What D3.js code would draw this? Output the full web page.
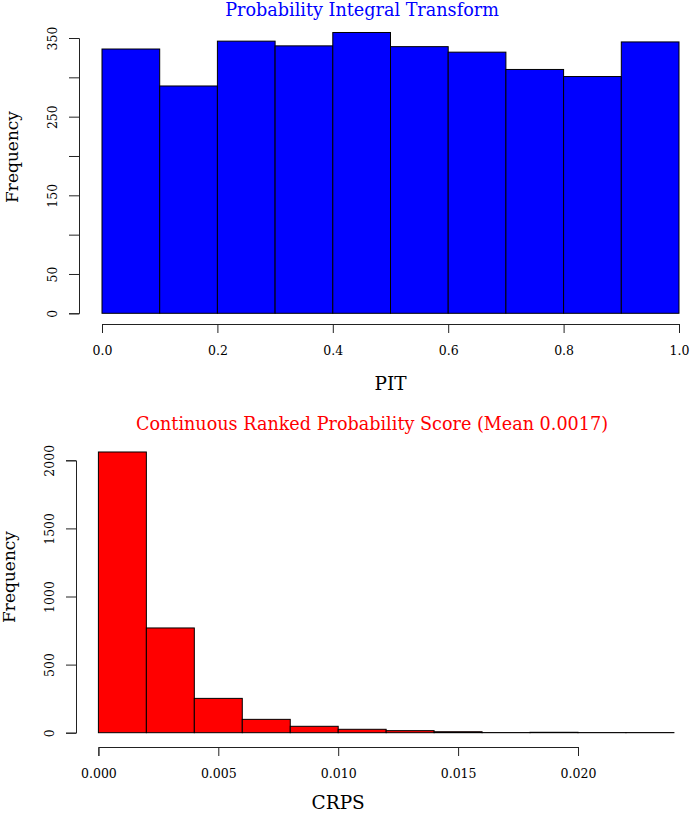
<!DOCTYPE html>
<html>
<head>
<meta charset="utf-8">
<script src="https://cdn.jsdelivr.net/npm/d3@7"></script>
<style>
  body { margin: 0; background: #fff; }
  svg text { font-family: "DejaVu Serif", "Liberation Serif", serif; }
</style>
</head>
<body>
<svg id="chart" width="694" height="813"></svg>
<script>
// PIT histogram: bin edges and counts
const pitBreaks = [0, 0.1, 0.2, 0.3, 0.4, 0.5, 0.6, 0.7, 0.8, 0.9, 1.0];
const pitCounts = [336, 289, 346, 340, 357, 339, 332, 310, 301, 345];
const pitXTicks = [0, 0.2, 0.4, 0.6, 0.8, 1.0];
const pitYTicks = [0, 50, 100, 150, 200, 250, 300, 350];
const pitYLabels = [0, 50, 150, 250, 350];

// CRPS histogram
const crpsBreaks = [0, 0.002, 0.004, 0.006, 0.008, 0.010, 0.012, 0.014, 0.016, 0.018, 0.020, 0.022, 0.024];
const crpsCounts = [2061, 769, 252, 98, 47, 25, 15, 7, 1, 3, 1, 1];
const crpsXTicks = [0, 0.005, 0.010, 0.015, 0.020];
const crpsYTicks = [0, 500, 1000, 1500, 2000];

const svg = d3.select("#chart");

const drawHist = (opts) => {
  const { breaks, counts, xTicks, yTicks, yLabels, xFmt, x, y, axisY, axisX,
          fill, title, titleColor, titleX, titleY, xLabel, xLabelY, yLabelX, yLabelY } = opts;

  const bins = counts.map((c, i) => ({ x0: breaks[i], x1: breaks[i + 1], n: c }));
  const g = svg.append("g");

  g.selectAll("rect")
    .data(bins)
    .enter()
    .append("rect")
    .attr("x", (d) => x(d.x0))
    .attr("y", (d) => y(d.n))
    .attr("width", (d) => x(d.x1) - x(d.x0))
    .attr("height", (d) => y(0) - y(d.n))
    .attr("fill", fill)
    .attr("stroke", "#000")
    .attr("stroke-width", 1);

  // x axis, R style: line only spans the ticks
  const xa = x.copy()
    .domain([xTicks[0], xTicks[xTicks.length - 1]])
    .range([x(xTicks[0]), x(xTicks[xTicks.length - 1])]);
  const gx = g.append("g")
    .attr("transform", `translate(0,${axisY})`)
    .call(d3.axisBottom(xa).tickValues(xTicks).tickSizeOuter(0).tickSize(9).tickFormat(xFmt));
  gx.select(".domain").attr("stroke", "#222");
  gx.selectAll(".tick line").attr("stroke", "#222");
  gx.selectAll(".tick text")
    .attr("y", 22)
    .attr("fill", "#000")
    .style("font-size", "12.5px");

  const ya = y.copy()
    .domain([yTicks[0], yTicks[yTicks.length - 1]])
    .range([y(yTicks[0]), y(yTicks[yTicks.length - 1])]);
  const gy = g.append("g")
    .attr("transform", `translate(${axisX},0)`)
    .call(d3.axisLeft(ya).tickValues(yTicks).tickSizeOuter(0).tickSize(10)
      .tickFormat((d) => (yLabels.includes(d) ? d : "")));
  gy.select(".domain").attr("stroke", "#222");
  gy.selectAll(".tick line").attr("stroke", "#222");
  gy.selectAll(".tick text")
    .attr("x", null)
    .attr("dy", null)
    .attr("transform", "translate(-22,0) rotate(-90)")
    .attr("text-anchor", "middle")
    .attr("fill", "#000")
    .style("font-size", "12.5px");

  g.append("text")
    .attr("x", titleX)
    .attr("y", titleY)
    .attr("text-anchor", "middle")
    .attr("fill", titleColor)
    .style("font-size", "17.6px")
    .text(title);

  g.append("text")
    .attr("x", (xa.range()[0] + xa.range()[1]) / 2)
    .attr("y", xLabelY)
    .attr("text-anchor", "middle")
    .style("font-size", "18.5px")
    .text(xLabel);

  g.append("text")
    .attr("transform", `translate(${yLabelX},${yLabelY}) rotate(-90)`)
    .attr("text-anchor", "middle")
    .style("font-size", "17px")
    .text("Frequency");
};

drawHist({
  breaks: pitBreaks,
  counts: pitCounts,
  xTicks: pitXTicks,
  yTicks: pitYTicks,
  yLabels: pitYLabels,
  xFmt: d3.format(".1f"),
  x: d3.scaleLinear().domain([0, 1]).range([102, 679]),
  y: d3.scaleLinear().domain([0, 350]).range([313.3, 38]),
  axisY: 324,
  axisX: 79,
  fill: "#0000ff",
  title: "Probability Integral Transform",
  titleColor: "#0000ff",
  titleX: 362,
  titleY: 16,
  xLabel: "PIT",
  xLabelY: 390,
  yLabelX: 18,
  yLabelY: 157
});

drawHist({
  breaks: crpsBreaks,
  counts: crpsCounts,
  xTicks: crpsXTicks,
  yTicks: crpsYTicks,
  yLabels: crpsYTicks,
  xFmt: d3.format(".3f"),
  x: d3.scaleLinear().domain([0, 0.02]).range([98.4, 578]),
  y: d3.scaleLinear().domain([0, 2000]).range([732.7, 460.3]),
  axisY: 747,
  axisX: 76,
  fill: "#ff0000",
  title: "Continuous Ranked Probability Score (Mean 0.0017)",
  titleColor: "#ff0000",
  titleX: 372,
  titleY: 430,
  xLabel: "CRPS",
  xLabelY: 809,
  yLabelX: 15,
  yLabelY: 577
});
</script>
</body>
</html>
